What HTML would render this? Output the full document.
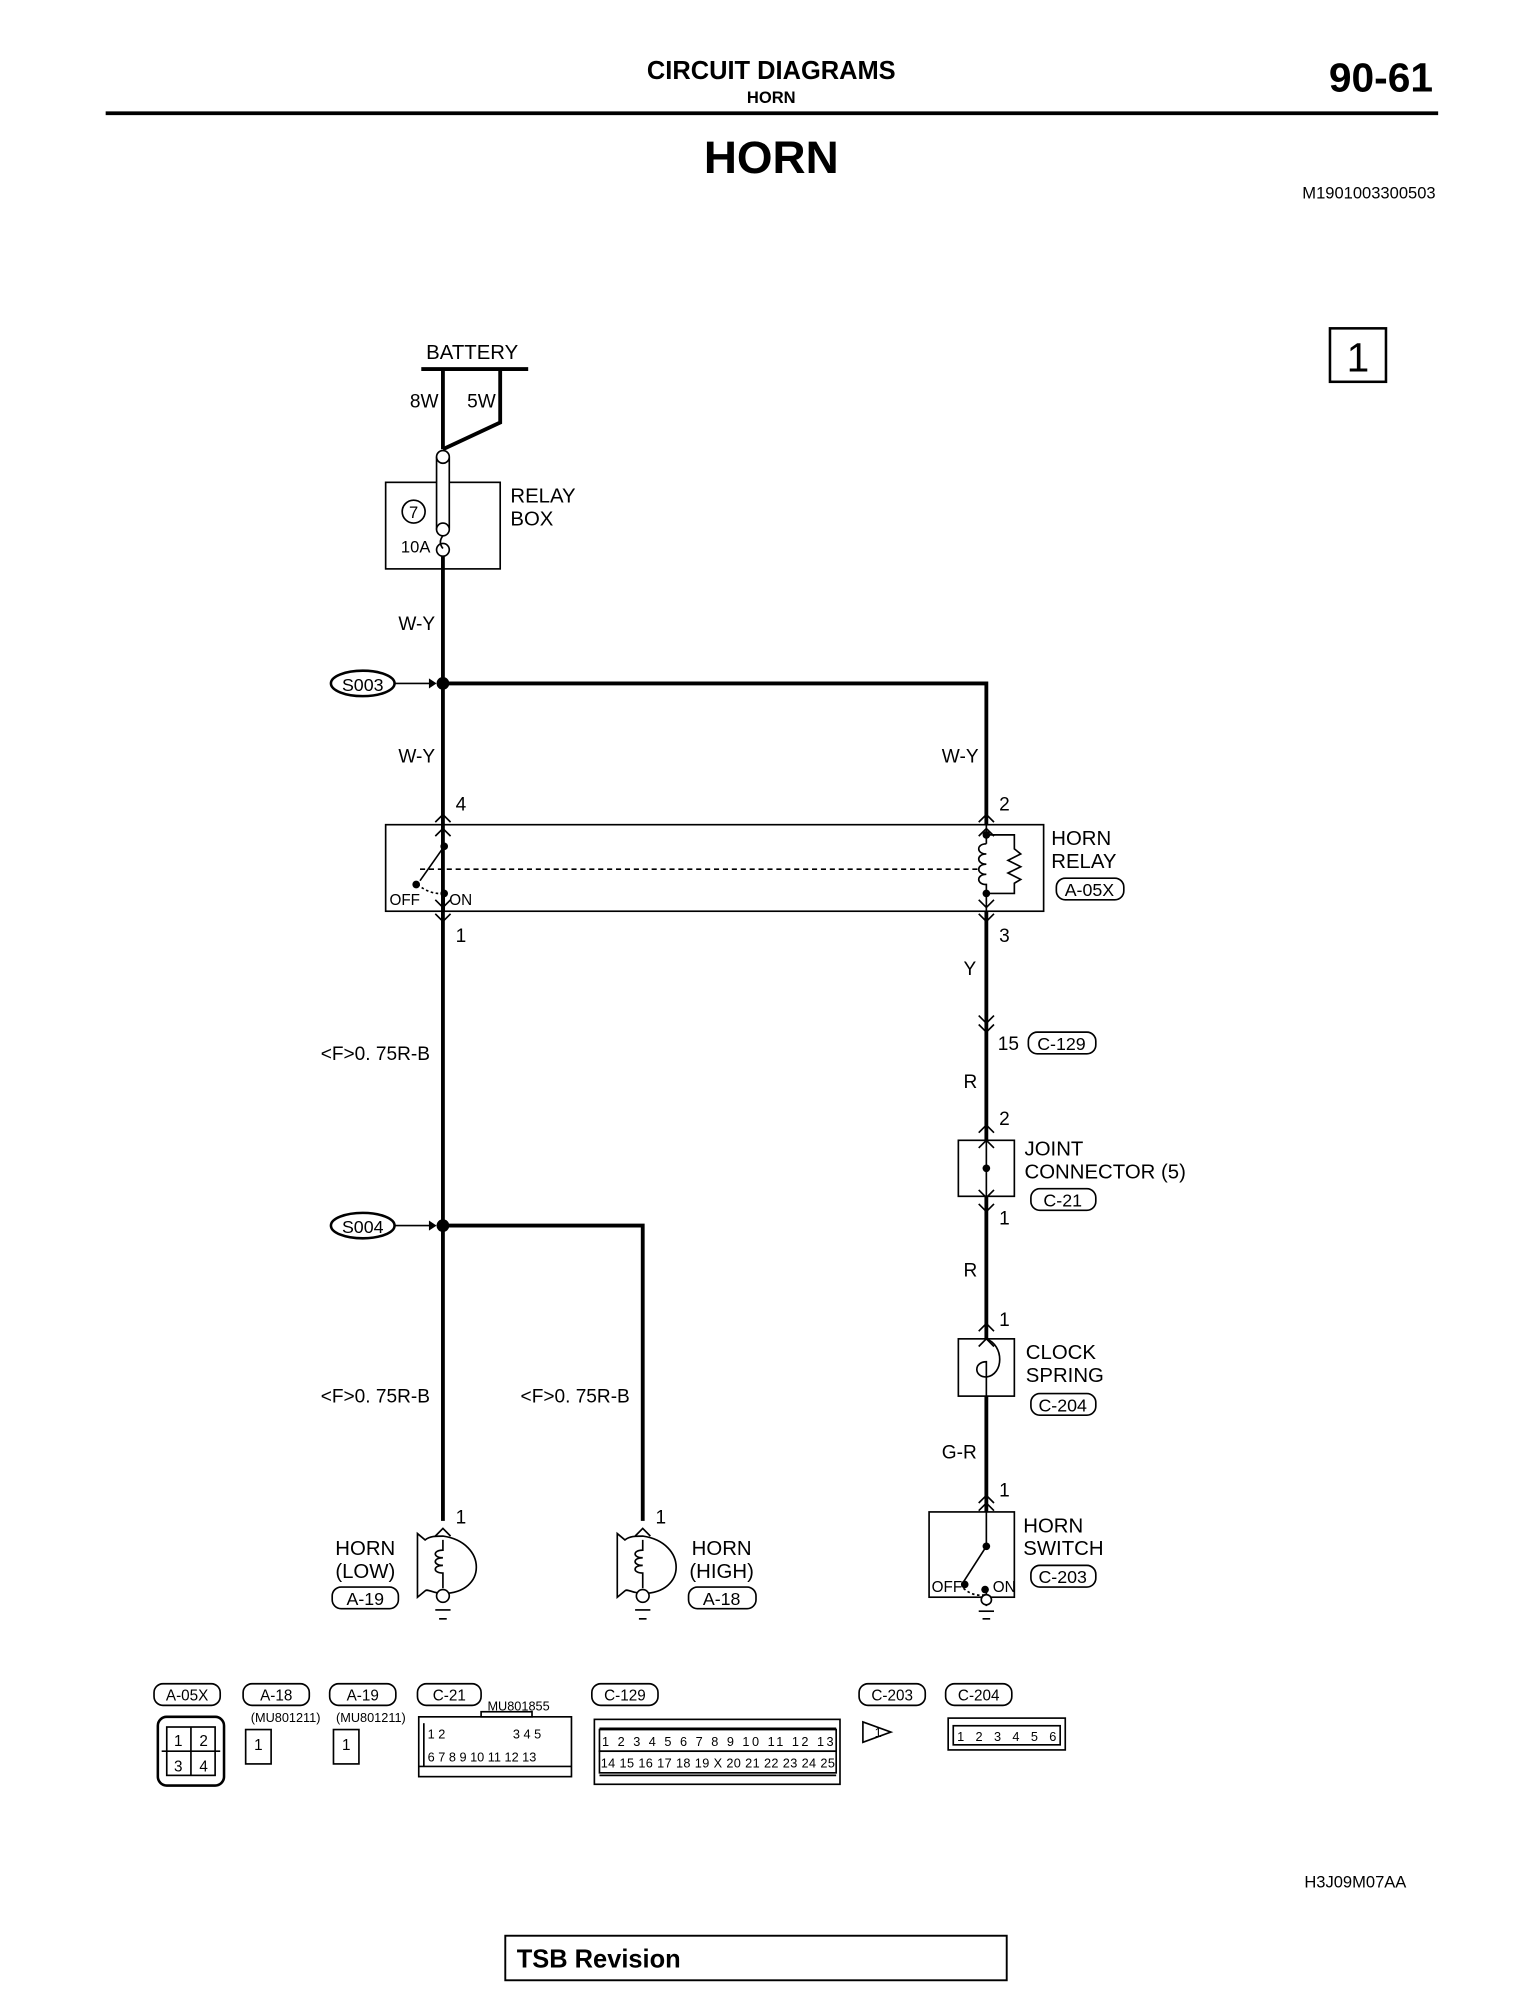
<!DOCTYPE html>
<html><head><meta charset="utf-8"><style>
html,body{margin:0;padding:0;background:#fff}
svg{display:block}
text{font-family:"Liberation Sans",sans-serif;fill:#000}
.n{font-size:16px}
.s{font-size:15px}
</style></head><body>
<svg width="1540" height="1993" viewBox="0 0 1210 1566" xmlns="http://www.w3.org/2000/svg">
<g fill="none" stroke="#000">
<line x1="83" y1="89" x2="1130" y2="89" stroke-width="3"/>
</g>
<text x="606" y="62" font-size="20" font-weight="bold" text-anchor="middle">CIRCUIT DIAGRAMS</text>
<text x="606" y="81" font-size="13" font-weight="bold" text-anchor="middle">HORN</text>
<text x="1126" y="72" font-size="32" font-weight="bold" text-anchor="end">90-61</text>
<text x="606" y="136" font-size="36" font-weight="bold" text-anchor="middle">HORN</text>
<text x="1128" y="156" font-size="13" text-anchor="end">M1901003300503</text>
<rect x="1045" y="258" width="44" height="42" fill="none" stroke="#000" stroke-width="2"/>
<text x="1067" y="292" font-size="32" text-anchor="middle">1</text>

<g fill="none" stroke="#000" stroke-width="3">
<line x1="331" y1="290" x2="415" y2="290"/>
<polyline points="348,290 348,353"/>
<polyline points="393,290 393,332 348,353"/>
<line x1="348" y1="430" x2="348" y2="1195"/>
<polyline points="348,537 775,537 775,648"/>
<polyline points="348,963 505,963 505,1195"/>
<line x1="775" y1="716" x2="775" y2="896"/>
<line x1="775" y1="940" x2="775" y2="1052"/>
<line x1="775" y1="1097" x2="775" y2="1188"/>
</g>
<g fill="none" stroke="#000" stroke-width="1.3">
<rect x="303" y="379" width="90" height="68"/>
<rect x="343" y="355" width="10" height="65" rx="5" fill="#fff"/>
<circle cx="348" cy="359" r="5" fill="#fff"/>
<circle cx="348" cy="416" r="5" fill="#fff"/>
<circle cx="348" cy="432" r="5" fill="#fff"/>
<path d="M348,421 q-4,5 0,10"/>
<circle cx="325" cy="402" r="9"/>
<ellipse cx="285" cy="537" rx="25" ry="10" stroke-width="2"/>
<line x1="310" y1="537" x2="342" y2="537"/>
<ellipse cx="285" cy="963" rx="25" ry="10" stroke-width="2"/>
<line x1="310" y1="963" x2="342" y2="963"/>
<rect x="303" y="648" width="517" height="68"/>
<line x1="330" y1="683" x2="768" y2="683" stroke-dasharray="4,3"/>
<line x1="348" y1="640" x2="348" y2="665"/>
<line x1="349" y1="665" x2="330" y2="692"/>
<line x1="349" y1="702" x2="349" y2="716"/>
<path d="M328,695 q10,8 20,7" stroke-dasharray="2,2"/>
<polyline points="342,646 348,640 354,646"/>
<polyline points="342,657 348,651 354,657"/>
<polyline points="342,707 348,713 354,707"/>
<polyline points="342,718 348,724 354,718"/>
<polyline points="769,646 775,640 781,646"/>
<polyline points="769,657 775,651 781,657"/>
<polyline points="769,707 775,713 781,707"/>
<polyline points="769,718 775,724 781,718"/>
<line x1="775" y1="648" x2="775" y2="663"/>
<line x1="775" y1="701" x2="775" y2="716"/>
<path d="M775,663 c-8,0 -8,8 0,8 c-8,0 -8,8 0,8 c-8,0 -8,8 0,8 c-8,0 -8,8 0,8 l0,6"/>
<polyline points="775,656 797,656 797,667 802,671 792,676 802,681 792,686 802,691 797,694 797,702 775,702"/>
<polyline points="769,798 775,804 781,798"/>
<polyline points="769,805 775,811 781,805"/>
<rect x="753" y="896" width="44" height="44"/>
<polyline points="769,890 775,884 781,890"/>
<polyline points="769,902 775,896 781,902"/>
<polyline points="769,935 775,941 781,935"/>
<polyline points="769,946 775,952 781,946"/>
<line x1="775" y1="896" x2="775" y2="940"/>
<rect x="753" y="1052" width="44" height="45"/>
<polyline points="769,1046 775,1040 781,1046"/>
<polyline points="769,1058 775,1052 781,1058"/>
<path d="M775,1052 c14,5 14,28 0,30 c-10,0 -10,-12 0,-12 l0,27"/>
<rect x="730" y="1188" width="67" height="67"/>
<polyline points="769,1181 775,1175 781,1181"/>
<polyline points="769,1187 775,1181 781,1187"/>
<line x1="775" y1="1188" x2="775" y2="1215"/>
<line x1="775" y1="1215" x2="757" y2="1243"/>
<path d="M757,1248 q8,7 17,5" stroke-dasharray="2,2"/>
<line x1="775" y1="1250" x2="775" y2="1262"/>
<circle cx="775" cy="1257" r="4" fill="#fff"/>
<line x1="769" y1="1266" x2="781" y2="1266"/><line x1="772" y1="1272" x2="778" y2="1272"/>
<g id="hl">
<polyline points="342,1207 348,1201 354,1207"/>
<path d="M348,1207 c35,5 35,45 0,45 c-8,0 -12,-4 -14,-2 l-6,5 l0,-50 l6,5 c4,-3 8,-3 14,-3 z"/>
<path d="M348,1210 l0,8 c-8,0 -8,6 0,6 c-8,0 -8,6 0,6 c-8,0 -8,6 0,6 l0,12"/>
<circle cx="348" cy="1254" r="5" fill="#fff"/>
<line x1="342" y1="1265" x2="354" y2="1265"/><line x1="345" y1="1272" x2="351" y2="1272"/>
</g>
<use href="#hl" x="157"/>
</g>
<g fill="#000">
<circle cx="348" cy="537" r="5"/><circle cx="348" cy="963" r="5"/>
<circle cx="349" cy="665" r="3"/><circle cx="327" cy="695" r="3"/><circle cx="349" cy="702" r="3"/>
<circle cx="775" cy="656" r="3"/><circle cx="775" cy="702" r="3"/>
<circle cx="775" cy="918" r="3"/>
<circle cx="775" cy="1215" r="3"/><circle cx="758" cy="1245" r="3"/><circle cx="774" cy="1249" r="3"/>
<polygon points="337,533 343,537 337,541"/>
<polygon points="337,959 343,963 337,967"/>
</g>

<text x="371" y="282" font-size="16" text-anchor="middle">BATTERY</text>
<text x="322" y="320" class="s">8W</text><text x="367" y="320" class="s">5W</text>
<text x="401" y="395" font-size="16">RELAY</text><text x="401" y="413" font-size="16">BOX</text>
<text x="325" y="407" font-size="13" text-anchor="middle">7</text>
<text x="315" y="434" font-size="13">10A</text>
<text x="313" y="495" class="s">W-Y</text>
<text x="285" y="543" font-size="14" text-anchor="middle">S003</text>
<text x="313" y="599" class="s">W-Y</text><text x="740" y="599" class="s">W-Y</text>
<text x="358" y="637" class="s">4</text><text x="785" y="637" class="s">2</text>
<text x="306" y="711" font-size="12">OFF</text><text x="353" y="711" font-size="12">ON</text>
<text x="826" y="664" font-size="16">HORN</text><text x="826" y="682" font-size="16">RELAY</text>
<rect x="830" y="690" width="53" height="17" rx="7" fill="none" stroke="#000" stroke-width="1.3"/>
<text x="856" y="704" font-size="14" text-anchor="middle">A-05X</text>
<text x="358" y="740" class="s">1</text><text x="785" y="740" class="s">3</text>
<text x="757" y="766" class="s">Y</text>
<text x="252" y="833" class="s">&lt;F&gt;0. 75R-B</text>
<text x="784" y="825" class="s">15</text>
<rect x="808" y="811" width="53" height="17" rx="7" fill="none" stroke="#000" stroke-width="1.3"/>
<text x="834" y="825" font-size="14" text-anchor="middle">C-129</text>
<text x="757" y="855" class="s">R</text>
<text x="785" y="884" class="s">2</text>
<text x="805" y="908" font-size="16">JOINT</text><text x="805" y="926" font-size="16">CONNECTOR (5)</text>
<rect x="810" y="934" width="51" height="17" rx="7" fill="none" stroke="#000" stroke-width="1.3"/>
<text x="835" y="948" font-size="14" text-anchor="middle">C-21</text>
<text x="785" y="962" class="s">1</text>
<text x="285" y="969" font-size="14" text-anchor="middle">S004</text>
<text x="757" y="1003" class="s">R</text>
<text x="785" y="1042" class="s">1</text>
<text x="806" y="1068" font-size="16">CLOCK</text><text x="806" y="1086" font-size="16">SPRING</text>
<rect x="810" y="1095" width="51" height="17" rx="7" fill="none" stroke="#000" stroke-width="1.3"/>
<text x="835" y="1109" font-size="14" text-anchor="middle">C-204</text>
<text x="252" y="1102" class="s">&lt;F&gt;0. 75R-B</text>
<text x="409" y="1102" class="s">&lt;F&gt;0. 75R-B</text>
<text x="740" y="1146" class="s">G-R</text>
<text x="785" y="1176" class="s">1</text>
<text x="358" y="1197" class="s">1</text><text x="515" y="1197" class="s">1</text>
<text x="804" y="1204" font-size="16">HORN</text><text x="804" y="1222" font-size="16">SWITCH</text>
<rect x="810" y="1230" width="51" height="17" rx="7" fill="none" stroke="#000" stroke-width="1.3"/>
<text x="835" y="1244" font-size="14" text-anchor="middle">C-203</text>
<text x="732" y="1251" font-size="12">OFF</text><text x="780" y="1251" font-size="12">ON</text>
<text x="287" y="1222" font-size="16" text-anchor="middle">HORN</text><text x="287" y="1240" font-size="16" text-anchor="middle">(LOW)</text>
<rect x="261" y="1247" width="52" height="17" rx="7" fill="none" stroke="#000" stroke-width="1.3"/>
<text x="287" y="1261" font-size="14" text-anchor="middle">A-19</text>
<text x="567" y="1222" font-size="16" text-anchor="middle">HORN</text><text x="567" y="1240" font-size="16" text-anchor="middle">(HIGH)</text>
<rect x="541" y="1247" width="53" height="17" rx="7" fill="none" stroke="#000" stroke-width="1.3"/>
<text x="567" y="1261" font-size="14" text-anchor="middle">A-18</text>

<g fill="none" stroke="#000" stroke-width="1.3">
<rect x="121" y="1323" width="52" height="17" rx="7"/>
<rect x="191" y="1323" width="52" height="17" rx="7"/>
<rect x="259" y="1323" width="52" height="17" rx="7"/>
<rect x="328" y="1323" width="50" height="17" rx="7"/>
<rect x="465" y="1323" width="52" height="17" rx="7"/>
<rect x="675" y="1323" width="52" height="17" rx="7"/>
<rect x="743" y="1323" width="52" height="17" rx="7"/>
<rect x="124" y="1349" width="52" height="54" rx="7" stroke-width="2"/>
<rect x="131" y="1357" width="38" height="38"/>
<line x1="150" y1="1357" x2="150" y2="1395"/><line x1="127" y1="1376" x2="173" y2="1376"/>
<rect x="193" y="1359" width="20" height="27"/><rect x="262" y="1359" width="20" height="27"/>
<rect x="329" y="1349" width="120" height="47"/>
<line x1="333" y1="1354" x2="333" y2="1388"/><line x1="329" y1="1388" x2="449" y2="1388"/>
<rect x="378" y="1345" width="40" height="4"/>
<rect x="467" y="1351" width="193" height="51"/>
<line x1="471" y1="1358" x2="657" y2="1358"/><line x1="471" y1="1395" x2="657" y2="1395"/>
<rect x="471" y="1359" width="186" height="17"/><rect x="471" y="1376" width="186" height="17"/>
<polygon points="678,1353 700,1361 678,1369"/>
<rect x="745" y="1350" width="92" height="25"/>
<rect x="749" y="1356" width="84" height="15"/>
</g>
<g font-size="12" text-anchor="middle">
<text x="147" y="1336">A-05X</text><text x="217" y="1336">A-18</text><text x="285" y="1336">A-19</text>
<text x="353" y="1336">C-21</text><text x="491" y="1336">C-129</text><text x="701" y="1336">C-203</text><text x="769" y="1336">C-204</text>
<text x="140" y="1372">1</text><text x="160" y="1372">2</text><text x="140" y="1392">3</text><text x="160" y="1392">4</text>
<text x="203" y="1375">1</text><text x="272" y="1375">1</text>
<text x="690" y="1365" font-size="10">1</text>
</g>
<g font-size="10">
<text x="197" y="1353">(MU801211)</text><text x="264" y="1353">(MU801211)</text>
<text x="383" y="1344">MU801855</text>
<text x="336" y="1366">1 2</text><text x="403" y="1366">3 4 5</text>
<text x="336" y="1384">6 7 8 9 10 11 12 13</text>
<text x="473" y="1372" textLength="182">1 2 3 4 5 6 7 8 9 10 11 12 13</text>
<text x="472" y="1389" textLength="184">14 15 16 17 18 19 X 20 21 22 23 24 25</text>
<text x="752" y="1368" textLength="78">1 2 3 4 5 6</text>
</g>
<text x="1105" y="1483" font-size="13" text-anchor="end">H3J09M07AA</text>
<rect x="397" y="1521" width="394" height="35" fill="none" stroke="#000" stroke-width="1.5"/>
<text x="406" y="1546" font-size="20" font-weight="bold">TSB Revision</text>
</svg>
</body></html>
